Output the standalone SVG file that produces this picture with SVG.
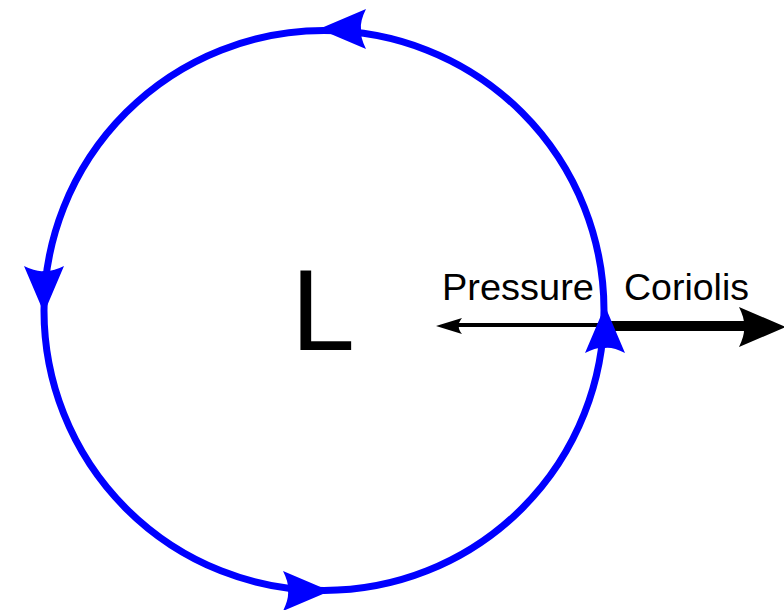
<svg xmlns="http://www.w3.org/2000/svg" width="784" height="610" viewBox="0 0 784 610">
<style>
.lbl{font-family:"Liberation Sans",Arial,sans-serif;fill:#000}
.flow{fill:none;stroke:#0000ff;stroke-width:7}
.blue{fill:#0000ff}
</style>
<defs>
<path id="ah" d="M0,0 L-47,-20 Q-41,-8 -42,0 Q-41,8 -47,20 Z"/>
<path id="bh" d="M0,0 L-26,-8 Q-22,-3 -23,0 Q-22,3 -26,8 Z"/>
</defs>
<rect width="784" height="610" fill="#fff"/>
<g id="forces">
<line x1="450" y1="325" x2="606" y2="325" stroke="#000" stroke-width="4"/>
<use href="#bh" transform="translate(436,326) rotate(180)"/>
<line x1="604" y1="326" x2="750" y2="326" stroke="#000" stroke-width="10"/>
<use href="#ah" transform="translate(786,327)"/>
</g>
<g id="circulation">
<circle class="flow" cx="324" cy="310.5" r="280"/>
<use class="blue" href="#ah" transform="translate(319,29) rotate(180)"/>
<use class="blue" href="#ah" transform="translate(44,313) rotate(90)"/>
<use class="blue" href="#ah" transform="translate(330,591)"/>
<use class="blue" href="#ah" transform="translate(605,306) rotate(-90)"/>
</g>
<g id="low"><text class="lbl" x="291" y="350" font-size="115">L</text></g>
<g id="labels">
<text class="lbl" x="442" y="300" font-size="36" textLength="152" lengthAdjust="spacingAndGlyphs">Pressure</text>
<text class="lbl" x="624" y="300" font-size="36" textLength="125" lengthAdjust="spacingAndGlyphs">Coriolis</text>
</g>
</svg>
